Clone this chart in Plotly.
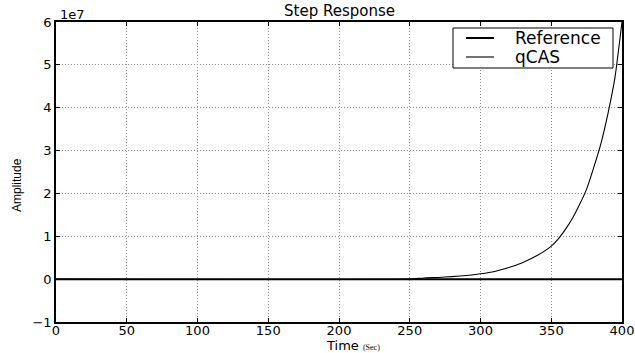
import plotly.graph_objects as go

# Data (amplitude in units of 1e7)
ref_time = [0, 400]
ref_amp = [0.0, 0.0]

qcas_time = [0, 250, 260, 270, 280, 290, 300, 310, 320, 330, 340, 350, 355,
             360, 365, 370, 375, 380, 385, 390, 395, 400]
qcas_amp = [0.0, 0.0, 0.027, 0.04, 0.058, 0.085, 0.125, 0.18, 0.27, 0.39, 0.55,
            0.77, 0.94, 1.16, 1.42, 1.74, 2.1, 2.6, 3.15, 3.85, 4.7, 6.0]

x_ticks = [0, 50, 100, 150, 200, 250, 300, 350, 400]
y_ticks = [-1, 0, 1, 2, 3, 4, 5, 6]
y_ticklabels = ["\u22121", "0", "1", "2", "3", "4", "5", "6"]
legend_names = ["Reference", "qCAS"]

W, H = 635, 353
L, R, T, B = 56, 13, 22, 31
pw, ph = W - L - R, H - T - B


def px_x(p):
    return (p - L) / pw


def px_y(p):
    return (H - B - p) / ph


fig = go.Figure()
fig.add_trace(go.Scatter(x=ref_time, y=ref_amp, mode="lines", name=legend_names[0],
                         line=dict(color="black", width=2.0), showlegend=False))
fig.add_trace(go.Scatter(x=qcas_time, y=qcas_amp, mode="lines", name=legend_names[1],
                         line=dict(color="black", width=1.1, shape="spline", smoothing=0.5),
                         showlegend=False))

font_main = "DejaVu Sans, Verdana, sans-serif"

fig.update_layout(
    width=W, height=H,
    margin=dict(l=L, r=R, t=T, b=B, autoexpand=False),
    paper_bgcolor="white", plot_bgcolor="white",
    font=dict(family=font_main, size=13, color="black"),
    showlegend=False,
)

grid = "#8c8c8c"
gdash = "1px,2px"
fig.update_xaxes(range=[0, 400], tickvals=x_ticks, showline=True, linecolor="black",
                 linewidth=1.5, mirror="ticks", ticks="inside", ticklen=4, tickcolor="black",
                 showgrid=True, gridcolor=grid, griddash=gdash, gridwidth=1,
                 zeroline=False, tickfont=dict(size=13), automargin=False,
                 ticklabelstandoff=-4)
fig.update_yaxes(range=[-1, 6], tickvals=y_ticks, ticktext=y_ticklabels, showline=True,
                 linecolor="black", linewidth=1.5, mirror="ticks", ticks="inside", ticklen=4,
                 tickcolor="black", showgrid=True, gridcolor=grid, griddash=gdash,
                 gridwidth=1, zeroline=False, tickfont=dict(size=13), automargin=False)

# Title
fig.add_annotation(text="Step Response", xref="paper", yref="paper",
                   x=px_x(339), y=px_y(11), xanchor="center", yanchor="middle",
                   showarrow=False, font=dict(size=15, family=font_main))
# 1e7 offset
fig.add_annotation(text="1e7", xref="paper", yref="paper", x=px_x(58), y=px_y(14),
                   xanchor="left", yanchor="middle", showarrow=False,
                   font=dict(size=13, family=font_main))
# x-axis title
fig.add_annotation(text="Time <span style='font-size:8px;font-family:Liberation Serif,serif'>(Sec)</span>",
                   xref="paper", yref="paper", x=px_x(353), y=px_y(345),
                   xanchor="center", yanchor="middle", showarrow=False,
                   font=dict(size=13, family=font_main))
# y-axis title
fig.add_annotation(text="Amplitude", xref="paper", yref="paper", x=px_x(17), y=px_y(185),
                   xanchor="center", yanchor="middle", textangle=-90, showarrow=False,
                   font=dict(size=12, family="Liberation Sans Narrow, Arial Narrow, sans-serif"))

# Legend (drawn manually)
fig.add_shape(type="rect", xref="paper", yref="paper",
              x0=px_x(453), x1=px_x(613), y0=px_y(68), y1=px_y(28),
              line=dict(color="black", width=1), fillcolor="white", layer="above")
for name, yy, w in [(legend_names[0], 38, 2.0), (legend_names[1], 57, 1.1)]:
    fig.add_shape(type="line", xref="paper", yref="paper",
                  x0=px_x(466), x1=px_x(494), y0=px_y(yy), y1=px_y(yy),
                  line=dict(color="black", width=w), layer="above")
    fig.add_annotation(text=name, xref="paper", yref="paper", x=px_x(513), y=px_y(yy),
                       xanchor="left", yanchor="middle", showarrow=False,
                       font=dict(size=17, family=font_main))

fig.write_html("out.html", config={"displayModeBar": False},
               post_script="document.body.style.margin='0px';document.body.style.overflow='hidden';")
